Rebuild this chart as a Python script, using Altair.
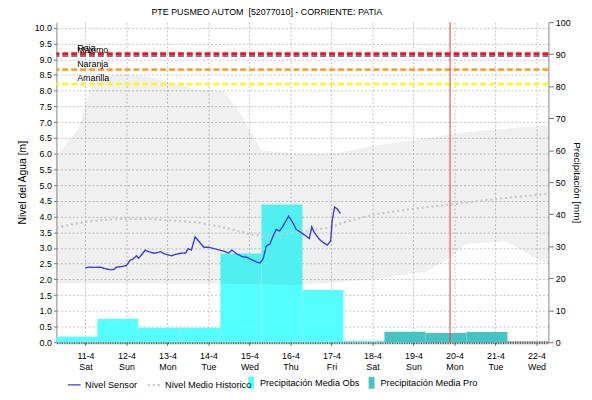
import altair as alt
import pandas as pd

FONT = "Liberation Sans"

def ms(s):
    return int(pd.Timestamp(s, tz="UTC").value // 10**6)

TITLE = "PTE PUSMEO AUTOM\u00a0 [52077010] - CORRIENTE: PATIA"
X_START = "2020-04-10 07:00"
X_END = "2020-04-22 07:00"
NOW = "2020-04-19 21:25"
TICK_DAYS = ["2020-04-%02d 00:00" % d for d in range(11, 23)]

LINE_SERIES = ["Nivel Sensor", "Nivel Medio Historico"]
LINE_COLORS = ["#3c3ce6", "#c8c8c8"]
BAR_SERIES = ["Precipitación Media Obs", "Precipitación Media Pro"]
BAR_COLORS = ["#55FFFF", "#45C4C4"]

# water level sensor (m)
sensor_times = [
    "2020-04-11 00:00", "2020-04-11 02:00", "2020-04-11 05:50", "2020-04-11 08:40",
    "2020-04-11 11:30", "2020-04-11 14:25", "2020-04-11 16:20", "2020-04-11 18:15",
    "2020-04-11 21:10", "2020-04-12 00:00", "2020-04-12 02:00", "2020-04-12 03:55",
    "2020-04-12 05:50", "2020-04-12 07:10", "2020-04-12 09:05", "2020-04-12 11:00",
    "2020-04-12 12:35", "2020-04-12 15:30", "2020-04-12 17:25", "2020-04-12 19:55",
    "2020-04-12 22:15", "2020-04-13 00:10", "2020-04-13 02:25", "2020-04-13 04:55",
    "2020-04-13 07:50", "2020-04-13 10:40", "2020-04-13 12:05", "2020-04-13 14:00",
    "2020-04-13 16:10", "2020-04-13 18:30", "2020-04-13 21:20", "2020-04-14 00:15",
    "2020-04-14 03:10", "2020-04-14 06:00", "2020-04-14 08:55", "2020-04-14 11:50",
    "2020-04-14 13:45", "2020-04-14 16:35", "2020-04-14 19:30", "2020-04-14 22:25",
    "2020-04-15 01:15", "2020-04-15 04:10", "2020-04-15 06:10", "2020-04-15 08:00",
    "2020-04-15 09:55", "2020-04-15 11:55", "2020-04-15 13:50", "2020-04-15 15:45",
    "2020-04-15 17:40", "2020-04-15 19:35", "2020-04-15 22:55", "2020-04-16 01:25",
    "2020-04-16 03:20", "2020-04-16 06:10", "2020-04-16 09:05", "2020-04-16 11:00",
    "2020-04-16 12:30", "2020-04-16 13:55", "2020-04-16 16:50", "2020-04-16 19:40",
    "2020-04-16 21:35", "2020-04-16 23:30", "2020-04-17 00:30", "2020-04-17 01:50",
    "2020-04-17 03:25", "2020-04-17 05:15",
]
sensor_levels = [
    2.37, 2.39, 2.38, 2.39, 2.34, 2.31, 2.31, 2.39,
    2.41, 2.44, 2.60, 2.65, 2.75, 2.67, 2.80, 2.93,
    2.89, 2.84, 2.84, 2.88, 2.81, 2.78, 2.75, 2.80,
    2.83, 2.84, 2.98, 2.93, 3.35, 3.20, 3.02, 3.02,
    2.98, 2.94, 2.90, 2.84, 2.93, 2.81, 2.73, 2.70,
    2.63, 2.55, 2.52, 2.65, 3.07, 3.12, 3.38, 3.59,
    3.54, 3.69, 4.01, 3.80, 3.59, 3.49, 3.38, 3.30,
    3.67, 3.49, 3.28, 3.15, 3.09, 3.22, 3.90, 4.30,
    4.24, 4.09,
]

# historical mean level (m)
hist_times = [
    "2020-04-10 07:00", "2020-04-10 16:00", "2020-04-11 01:50", "2020-04-11 19:10",
    "2020-04-12 14:15", "2020-04-13 07:40", "2020-04-13 19:15", "2020-04-14 12:30",
    "2020-04-15 00:00", "2020-04-15 09:50", "2020-04-16 03:10", "2020-04-16 22:20",
    "2020-04-17 06:30", "2020-04-18 00:20", "2020-04-19 00:30", "2020-04-20 00:50",
    "2020-04-21 00:30", "2020-04-22 00:50", "2020-04-22 07:00",
]
hist_levels = [
    3.65, 3.75, 3.85, 3.92, 3.92, 3.85, 3.80, 3.61,
    3.43, 3.38, 3.50, 3.64, 3.80, 4.06, 4.25, 4.40,
    4.56, 4.69, 4.72,
]

# historical band (min / max, m)
band_times = [
    "2020-04-10 07:00", "2020-04-10 20:00", "2020-04-11 04:00", "2020-04-11 19:00",
    "2020-04-12 13:00", "2020-04-13 06:00", "2020-04-13 18:00", "2020-04-14 09:00",
    "2020-04-14 18:00", "2020-04-15 07:00", "2020-04-16 03:00", "2020-04-17 02:00",
    "2020-04-18 01:00", "2020-04-19 08:00", "2020-04-19 22:00", "2020-04-20 06:00",
    "2020-04-21 06:00", "2020-04-22 02:00", "2020-04-22 07:00",
]
band_max = [
    5.95, 6.80, 8.30, 8.52, 8.45, 8.20, 8.04, 7.98,
    7.35, 6.10, 6.00, 6.00, 6.25, 6.50, 6.62, 6.68,
    6.80, 6.88, 6.90,
]
band_min = [
    1.87, 1.87, 1.88, 1.88, 1.87, 1.86, 1.86, 1.86,
    1.85, 1.84, 1.81, 1.90, 2.00, 2.25, 2.70, 3.12,
    3.22, 2.60, 2.50,
]

# daily precipitation (mm), days run 07:00 -> 07:00
obs_days = ["2020-04-10", "2020-04-11", "2020-04-12", "2020-04-13", "2020-04-14",
            "2020-04-15", "2020-04-16", "2020-04-17", "2020-04-18"]
obs_mm = [1.7, 7.3, 4.5, 4.5, 27.7, 43.0, 16.3, 0.4, 0.3]
pro_days = ["2020-04-18", "2020-04-19", "2020-04-20"]
pro_mm = [3.3, 2.9, 3.2]

# alert thresholds (m)
thr_names = ["Máximo", "Roja", "Naranja", "Amarilla"]
thr_levels = [9.11, 9.18, 8.67, 8.21]
thr_colors = ["#7373AD", "#FF1010", "#FFA028", "#F8F830"]

# ---------------- tables ----------------
def day_start(d):
    return ms(d + " 07:00")

def day_end(d):
    return ms(d + " 07:00") + 24 * 3600 * 1000

sensor_df = pd.DataFrame({"t": [ms(t) for t in sensor_times], "v": sensor_levels,
                          "serie": LINE_SERIES[0]})
hist_df = pd.DataFrame({"t": [ms(t) for t in hist_times], "v": hist_levels,
                        "serie": LINE_SERIES[1]})
band_df = pd.DataFrame({"t": [ms(t) for t in band_times], "hi": band_max, "lo": band_min})
obs_df = pd.DataFrame({"t": [day_start(d) for d in obs_days],
                       "t2": [day_end(d) for d in obs_days],
                       "mm": obs_mm, "serie": BAR_SERIES[0]})
pro_df = pd.DataFrame({"t": [day_start(d) for d in pro_days],
                       "t2": [day_end(d) for d in pro_days],
                       "mm": pro_mm, "serie": BAR_SERIES[1]})
thr_df = pd.DataFrame({"name": thr_names, "v": thr_levels, "c": thr_colors})
now_df = pd.DataFrame({"t": [ms(NOW)]})

# ---------------- scales / axes ----------------
x_scale = alt.Scale(type="utc", domain=[ms(X_START), ms(X_END)], nice=False)
x_axis = alt.Axis(
    values=[ms(d) for d in TICK_DAYS],
    labelExpr="[utcFormat(datum.value, '%-d-%-m'), utcFormat(datum.value, '%a')]",
    title=None, grid=True, gridDash=[2, 2], gridColor="#c4c4c4", gridWidth=1,
    tickSize=3, tickColor="#666", domainColor="#555", domainWidth=3,
    domainDash=[1, 0.73], labelFontSize=9, labelColor="black", labelPadding=6,
    labelLineHeight=12,
)
lvl_scale = alt.Scale(domain=[0, 10.18], nice=False, zero=True)
lvl_axis = alt.Axis(
    values=[i * 0.5 for i in range(21)], format=".1f", orient="left",
    title="Nivel del Agua [m]", titleFontSize=10.5, titleFontWeight="normal",
    titleColor="black", titlePadding=7, labelFontSize=9, labelColor="black",
    tickSize=3, tickColor="#777", domainColor="#888", labelPadding=2,
    grid=True, gridDash=[2, 2], gridColor="#c4c4c4",
)
mm_scale = alt.Scale(domain=[0, 100], nice=False)
mm_axis = alt.Axis(
    values=list(range(0, 101, 10)), orient="right", title="Precipitación [mm]",
    titleFontSize=10, titleFontWeight="normal", titleColor="black", titlePadding=1,
    labelFontSize=9, labelColor="black", tickSize=5, tickColor="#777",
    domainColor="#888", labelPadding=2, grid=False,
)

line_legend = alt.Legend(
    title=None, orient="none", legendX=10, legendY=359, direction="horizontal",
    columns=2, labelFontSize=9.3, labelColor="black", labelFont=FONT,
    symbolType="stroke", symbolSize=169, columnPadding=6, labelOffset=3, padding=0,
)
bar_legend = alt.Legend(
    title=None, orient="none", legendX=191, legendY=359, direction="horizontal",
    columns=2, labelFontSize=9.3, labelColor="black", labelFont=FONT,
    symbolType="M-0.5,-1H0.5V1H-0.5Z", symbolSize=144, symbolStrokeWidth=0,
    symbolOpacity=1, columnPadding=6, labelOffset=3, padding=0,
)
stroke = alt.Stroke("serie:N", scale=alt.Scale(domain=LINE_SERIES, range=LINE_COLORS),
                    legend=line_legend)
dash = alt.StrokeDash("serie:N", scale=alt.Scale(domain=LINE_SERIES, range=[[1, 0], [2, 3]]),
                      legend=line_legend)
width = alt.StrokeWidth("serie:N", scale=alt.Scale(domain=LINE_SERIES, range=[1.4, 2.2]),
                        legend=line_legend)
fill = alt.Fill("serie:N", scale=alt.Scale(domain=BAR_SERIES, range=BAR_COLORS),
                legend=bar_legend)

X = lambda f: alt.X(f, type="temporal", scale=x_scale, axis=x_axis)

# ---------------- precipitation layers ----------------
obs = alt.Chart(obs_df).mark_rect(opacity=1).encode(
    x=X("t"), x2="t2",
    y=alt.Y("mm:Q", scale=mm_scale, axis=mm_axis), y2=alt.datum(0),
    fill=fill,
)
pro = alt.Chart(pro_df).mark_rect(opacity=1).encode(
    x=X("t"), x2="t2",
    y=alt.Y("mm:Q", scale=mm_scale, axis=mm_axis), y2=alt.datum(0),
    fill=fill,
)
precip = alt.layer(obs, pro)

# ---------------- level layers ----------------
band = alt.Chart(band_df).mark_area(color="#000000", opacity=0.06).encode(
    x=X("t"),
    y=alt.Y("hi:Q", scale=lvl_scale, axis=lvl_axis),
    y2="lo",
)
thr = alt.Chart(thr_df).mark_rule(strokeDash=[6, 3], strokeWidth=2.6).encode(
    y=alt.Y("v:Q", scale=lvl_scale, axis=lvl_axis),
    color=alt.Color("c:N", scale=None),
)
thr_txt = alt.Chart(thr_df).mark_text(
    align="left", baseline="bottom", dy=-1, fontSize=9, font=FONT, color="black"
).encode(
    x=alt.value(21),
    y=alt.Y("v:Q", scale=lvl_scale, axis=lvl_axis),
    text="name:N",
)
hist = alt.Chart(hist_df).mark_line().encode(
    x=X("t"), y=alt.Y("v:Q", scale=lvl_scale, axis=lvl_axis),
    stroke=stroke, strokeDash=dash, strokeWidth=width,
)
sensor = alt.Chart(sensor_df).mark_line().encode(
    x=X("t"), y=alt.Y("v:Q", scale=lvl_scale, axis=lvl_axis),
    stroke=stroke, strokeDash=dash, strokeWidth=width,
)
now = alt.Chart(now_df).mark_rule(color="#FF3030", strokeWidth=1).encode(x=X("t"))

levels = alt.layer(band, thr, thr_txt, hist, sensor, now)

chart = (
    alt.layer(precip, levels)
    .resolve_scale(y="independent")
    .properties(
        width=498, height=324,
        title=alt.TitleParams(TITLE, fontSize=9, fontWeight="normal", font=FONT,
                              color="black", anchor="middle", dx=-36, offset=1),
        autosize=alt.AutoSizeParams(type="none"),
        padding={"left": 49, "top": 12, "right": 36, "bottom": 48},
    )
    .configure(font=FONT)
    .configure_view(stroke=None)
)

chart.save("out.html", embed_options={"renderer": "svg", "actions": False})
